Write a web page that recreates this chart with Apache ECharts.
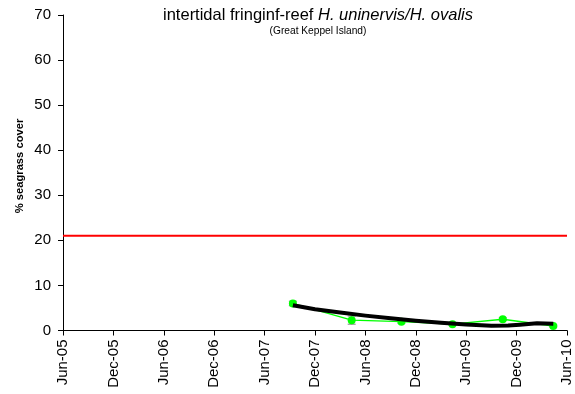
<!DOCTYPE html>
<html><head><meta charset="utf-8">
<script src="https://cdn.jsdelivr.net/npm/echarts@6/dist/echarts.min.js"></script>
<style>html,body{margin:0;padding:0;background:#fff}#c{width:575px;height:394px}</style>
</head><body><div id="c"></div>
<script>
// ---- data ----
const tickLabels = ['Jun-05','Dec-05','Jun-06','Dec-06','Jun-07','Dec-07','Jun-08','Dec-08','Jun-09','Dec-09','Jun-10'];
const sampleDates = ['2007-09-12','2008-04-12','2008-10-10','2009-04-12','2009-10-12','2010-04-12'];
const coverMean   = [6.0, 2.3, 1.95, 1.4, 2.5, 1.0];
const coverSE     = [0.5, 0.9, 0.3, 0.2, 0.3, 0.2];
const trendDates  = ['2007-09-12','2007-12-01','2008-03-01','2008-06-01','2008-09-01','2008-12-01','2009-03-01','2009-06-01','2009-09-01','2009-11-01','2009-12-13','2010-02-13','2010-04-12'];
const trendValues = [5.6, 4.7, 4.0, 3.3, 2.7, 2.15, 1.7, 1.35, 1.08, 1.1, 1.3, 1.6, 1.5];
const guideline   = 21;
const yTicks = [0,10,20,30,40,50,60,70];

// months since Jun-2005 (axis origin)
function monthIndex(s){
  const d = new Date(s + 'T00:00:00Z');
  const y = d.getUTCFullYear(), m = d.getUTCMonth();
  const dim = new Date(Date.UTC(y, m+1, 0)).getUTCDate();
  return (y - 2005) * 12 + (m - 5) + (d.getUTCDate() - 1) / dim;
}

const meanData  = sampleDates.map((d,i)=>[monthIndex(d), coverMean[i]]);
const errData   = sampleDates.map((d,i)=>[monthIndex(d), coverMean[i]-coverSE[i], coverMean[i]+coverSE[i]]);
const trendData = trendDates.map((d,i)=>[monthIndex(d), trendValues[i]]);

const chart = echarts.init(document.getElementById('c'), null, {renderer:'canvas'});
const font = 'Arial, "Liberation Sans", sans-serif';
chart.setOption({
  animation:false,
  backgroundColor:'#fff',
  grid:{left:63, right:8, top:15, bottom:63.5, containLabel:false},
  graphic:[
    {type:'text', x:318, y:7, style:{
      text:'intertidal fringinf-reef {i|H. uninervis/H. ovalis}',
      rich:{i:{fontStyle:'italic', fontSize:16.5, fontFamily:font, fill:'#000'}},
      fontSize:16.5, fontFamily:font, fill:'#000', align:'center', verticalAlign:'top'}},
    {type:'text', x:318, y:26, style:{
      text:'(Great Keppel Island)', fontSize:10.2, fontFamily:font, fill:'#000', align:'center', verticalAlign:'top'}},
    {type:'text', x:20, y:166, rotation:Math.PI/2, style:{
      text:'% seagrass cover', fontSize:11.2, fontWeight:'bold', fontFamily:font, fill:'#000', align:'center', verticalAlign:'middle'}}
  ],
  xAxis:{
    type:'value', min:0, max:60, interval:6,
    axisLine:{lineStyle:{color:'#000', width:1}},
    axisTick:{show:true, length:5, lineStyle:{color:'#000'}},
    splitLine:{show:false},
    axisLabel:{rotate:90, margin:9, fontSize:15, fontFamily:font, color:'#000', padding:[8,0,0,0],
      formatter:v=>tickLabels[Math.round(v/6)] || ''}
  },
  yAxis:{
    type:'value', min:0, max:70, interval:10,
    axisLine:{show:true, lineStyle:{color:'#000', width:1}},
    axisTick:{show:true, length:5, lineStyle:{color:'#000'}},
    splitLine:{show:false},
    axisLabel:{margin:12, fontSize:15, fontFamily:font, color:'#000',
      formatter:v=>yTicks.includes(v)?String(v):''}
  },
  series:[
    {type:'line', data:[[0,guideline],[60,guideline]], symbol:'none',
     lineStyle:{color:'#ff0000', width:2}, z:2},
    {type:'custom', z:3, data:errData,
     renderItem:function(params, api){
       const x = api.value(0);
       const lo = api.coord([x, api.value(1)]);
       const hi = api.coord([x, api.value(2)]);
       const w = 4;
       const st = {stroke:'#808080', lineWidth:1};
       return {type:'group', children:[
         {type:'line', shape:{x1:lo[0],y1:lo[1],x2:hi[0],y2:hi[1]}, style:st},
         {type:'line', shape:{x1:lo[0]-w,y1:lo[1],x2:lo[0]+w,y2:lo[1]}, style:st},
         {type:'line', shape:{x1:hi[0]-w,y1:hi[1],x2:hi[0]+w,y2:hi[1]}, style:st}
       ]};
     }},
    {type:'line', data:meanData, symbol:'circle', symbolSize:8,
     itemStyle:{color:'#00ff00'}, lineStyle:{color:'#00ff00', width:1.3}, z:4},
    {type:'line', data:trendData, symbol:'none', smooth:false,
     lineStyle:{color:'#000', width:4, join:'round'}, z:5}
  ]
});
</script>
</body></html>
